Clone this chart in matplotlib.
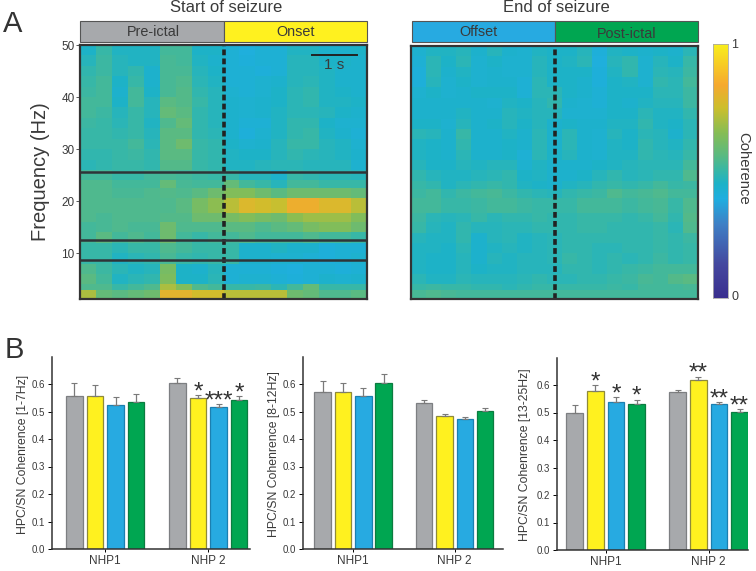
import numpy as np
import matplotlib
matplotlib.use('Agg')
import matplotlib.pyplot as plt
from matplotlib.colors import LinearSegmentedColormap
from matplotlib.patches import Rectangle

plt.rcParams['font.family'] = ['Liberation Sans', 'DejaVu Sans']

W, H = 756, 571

# frequency edges of the heatmap rows, top to bottom
freq_edges = [50, 48, 46, 44, 42, 40, 38, 36, 34, 32, 30, 28, 26, 24, 22.5, 20.7, 17.8, 16, 14, 12, 10, 8, 6, 4, 3, 1.2]

# coherence x 100, one row per frequency band, top row first
start_rows = [
    [45, 50, 46, 46, 46, 52, 52, 45, 45, 42, 40, 42, 42, 46, 46, 44, 44, 45],
    [47, 51, 47, 46, 46, 53, 52, 46, 44, 42, 41, 42, 42, 47, 47, 45, 45, 44],
    [49, 51, 47, 49, 44, 53, 53, 47, 45, 42, 42, 41, 42, 47, 47, 46, 44, 44],
    [50, 52, 45, 50, 44, 53, 54, 48, 46, 42, 42, 43, 44, 47, 48, 46, 44, 44],
    [51, 52, 44, 52, 45, 53, 55, 49, 47, 43, 42, 43, 45, 48, 49, 46, 45, 44],
    [52, 52, 45, 52, 47, 56, 55, 50, 47, 44, 43, 44, 45, 48, 49, 46, 46, 45],
    [52, 51, 47, 50, 47, 58, 56, 49, 47, 44, 43, 44, 46, 48, 48, 47, 45, 44],
    [51, 50, 48, 50, 46, 54, 58, 49, 47, 44, 42, 42, 46, 49, 49, 45, 43, 43],
    [50, 50, 49, 50, 47, 56, 56, 49, 48, 44, 41, 43, 46, 49, 50, 46, 44, 42],
    [50, 50, 50, 52, 48, 56, 60, 50, 49, 45, 43, 44, 47, 50, 50, 47, 46, 43],
    [49, 49, 50, 51, 49, 56, 56, 50, 49, 46, 45, 45, 47, 49, 48, 47, 46, 44],
    [48, 49, 50, 50, 49, 55, 55, 50, 49, 46, 46, 47, 48, 48, 47, 47, 47, 43],
    [52, 52, 50, 50, 52, 53, 52, 51, 50, 50, 47, 47, 44, 50, 49, 48, 48, 47],
    [54, 54, 52, 52, 52, 58, 53, 52, 52, 58, 52, 50, 47, 52, 52, 50, 50, 50],
    [54, 54, 53, 53, 54, 55, 54, 56, 60, 64, 64, 60, 56, 60, 60, 60, 60, 58],
    [54, 54, 54, 54, 54, 54, 56, 62, 66, 72, 78, 76, 74, 82, 82, 78, 78, 72],
    [54, 53, 54, 54, 54, 55, 55, 60, 60, 62, 64, 62, 60, 66, 68, 68, 68, 64],
    [52, 53, 54, 53, 53, 60, 54, 54, 54, 56, 56, 54, 56, 58, 62, 64, 64, 60],
    [52, 56, 52, 54, 52, 60, 52, 50, 52, 52, 54, 52, 52, 52, 54, 52, 52, 50],
    [50, 50, 48, 50, 50, 54, 52, 50, 50, 50, 44, 44, 46, 44, 44, 41, 42, 42],
    [50, 50, 46, 48, 49, 53, 50, 49, 50, 50, 44, 44, 43, 43, 42, 41, 42, 43],
    [54, 51, 48, 46, 47, 62, 45, 44, 47, 42, 42, 42, 41, 40, 42, 42, 41, 42],
    [56, 52, 46, 48, 49, 63, 45, 45, 48, 42, 43, 43, 42, 41, 42, 44, 43, 44],
    [54, 54, 50, 52, 54, 70, 64, 54, 52, 50, 50, 51, 48, 52, 58, 50, 50, 50],
    [70, 58, 56, 58, 60, 80, 80, 76, 76, 72, 72, 72, 72, 60, 58, 54, 54, 56],
]
end_rows = [
    [43, 46, 46, 47, 44, 47, 44, 43, 46, 45, 45, 47, 41, 46, 45, 44, 45, 44, 48],
    [42, 48, 45, 48, 43, 45, 43, 43, 47, 45, 46, 48, 40, 47, 49, 43, 47, 45, 50],
    [41, 48, 44, 46, 43, 44, 43, 43, 47, 45, 45, 45, 41, 46, 49, 43, 48, 47, 51],
    [41, 47, 43, 45, 43, 44, 44, 42, 48, 45, 45, 44, 41, 45, 46, 43, 49, 48, 52],
    [43, 45, 43, 44, 45, 45, 45, 42, 48, 48, 45, 44, 42, 45, 45, 45, 48, 48, 51],
    [44, 44, 44, 44, 44, 43, 46, 45, 47, 49, 44, 43, 42, 45, 44, 46, 47, 47, 51],
    [44, 44, 44, 46, 44, 44, 47, 46, 47, 47, 43, 43, 43, 45, 45, 48, 46, 46, 49],
    [45, 45, 43, 47, 44, 45, 47, 45, 47, 44, 45, 44, 44, 46, 46, 49, 46, 45, 48],
    [48, 47, 44, 50, 44, 44, 46, 44, 48, 44, 48, 44, 43, 47, 45, 48, 47, 44, 48],
    [46, 45, 44, 49, 44, 44, 45, 44, 48, 44, 48, 44, 43, 46, 45, 49, 47, 46, 49],
    [46, 45, 44, 48, 44, 44, 45, 42, 48, 45, 47, 44, 43, 46, 46, 49, 48, 47, 50],
    [47, 45, 45, 47, 46, 47, 47, 43, 46, 44, 44, 44, 45, 46, 47, 48, 48, 48, 52],
    [49, 47, 46, 46, 47, 48, 49, 45, 46, 44, 44, 45, 47, 49, 47, 48, 49, 49, 54],
    [50, 49, 46, 48, 49, 50, 49, 46, 45, 44, 46, 47, 49, 50, 49, 50, 52, 50, 51],
    [51, 52, 49, 51, 52, 53, 51, 49, 48, 47, 49, 50, 51, 54, 52, 53, 54, 52, 52],
    [52, 52, 50, 50, 51, 52, 52, 51, 50, 50, 50, 52, 52, 52, 51, 52, 53, 50, 54],
    [51, 48, 47, 48, 50, 48, 49, 49, 50, 49, 49, 50, 50, 50, 49, 50, 52, 49, 55],
    [50, 47, 46, 49, 47, 47, 48, 48, 49, 49, 49, 50, 50, 49, 49, 49, 50, 48, 54],
    [47, 46, 46, 49, 44, 47, 48, 46, 47, 48, 49, 49, 49, 49, 49, 49, 50, 49, 51],
    [46, 46, 45, 48, 44, 46, 47, 46, 47, 48, 49, 49, 48, 48, 49, 49, 50, 49, 50],
    [46, 45, 45, 47, 44, 47, 46, 47, 47, 48, 50, 49, 48, 49, 48, 49, 51, 49, 50],
    [46, 45, 45, 47, 45, 46, 46, 47, 47, 47, 49, 49, 48, 49, 50, 51, 52, 52, 52],
    [48, 46, 46, 48, 47, 47, 47, 48, 49, 48, 48, 49, 49, 50, 51, 53, 52, 55, 56],
    [50, 51, 50, 50, 49, 49, 48, 49, 50, 50, 50, 50, 50, 51, 50, 52, 52, 52, 53],
    [53, 54, 53, 52, 52, 52, 52, 52, 52, 52, 52, 52, 52, 52, 52, 52, 52, 52, 52],
]

band_lines = [25.6, 12.5, 8.7]

groups = ['NHP1', 'NHP 2']
phase_colors = ['#a7a9ac', '#fff11f', '#27aae1', '#00a651']
phase_edges = ['#7d7f82', '#8f8a3a', '#1c7fb0', '#0b7c40']

labels_b = ['HPC/SN Cohenrence [1-7Hz]', 'HPC/SN Cohenrence [8-12Hz]', 'HPC/SN Cohenrence [13-25Hz]']
means_1_7 = [0.555, 0.557, 0.525, 0.535, 0.605, 0.550, 0.515, 0.543]
tops_1_7 = [0.604, 0.597, 0.552, 0.563, 0.622, 0.560, 0.526, 0.555]
stars_1_7 = ['', '', '', '', '', '*', '***', '*']
means_8_12 = [0.570, 0.572, 0.555, 0.602, 0.530, 0.483, 0.472, 0.503]
tops_8_12 = [0.612, 0.605, 0.585, 0.636, 0.542, 0.491, 0.481, 0.513]
stars_8_12 = ['', '', '', '', '', '', '', '']
means_13_25 = [0.500, 0.578, 0.538, 0.530, 0.573, 0.620, 0.530, 0.502]
tops_13_25 = [0.527, 0.600, 0.555, 0.547, 0.583, 0.630, 0.537, 0.512]
stars_13_25 = ['', '*', '*', '*', '', '**', '**', '**']


def px_axes(x0, y0, x1, y1, **kw):
    # axes from pixel box, y measured from the top of the image
    return fig.add_axes([x0 / W, 1 - y1 / H, (x1 - x0) / W, (y1 - y0) / H], **kw)


fig = plt.figure(figsize=(W / 100, H / 100), dpi=100)

coh = LinearSegmentedColormap.from_list('coh', [
    (0.0, '#3a2f8f'), (0.13, '#45489f'), (0.29, '#3f80c6'), (0.39, '#1faee0'),
    (0.45, '#1db2c8'), (0.5, '#36b7a8'), (0.56, '#5aba82'), (0.65, '#86bd55'),
    (0.75, '#cdbf2c'), (0.84, '#f6a92f'), (1.0, '#f9ee1c')])

TXT = '#3a3a3a'

# heatmaps
for box, rows in [((80, 45, 367, 299), start_rows), ((411, 46, 698, 299), end_rows)]:
    ax = px_axes(*box)
    vals = np.array(rows) / 100
    t_edges = np.linspace(0, 1, vals.shape[1] + 1)
    ax.pcolormesh(t_edges, freq_edges, vals, cmap=coh, vmin=0, vmax=1)
    ax.set_xlim(0, 1)
    ax.set_ylim(1.2, 50)
    ax.axvline(0.5, color='#222222', lw=2.6, ls=(0, (1.6, 0.9)))
    ax.set_xticks([])
    for s in ax.spines.values():
        s.set_linewidth(1.6)
        s.set_color('#333333')
    if rows is start_rows:
        for f in band_lines:
            ax.axhline(f, color='#2f3438', lw=1.8)
        ax.set_yticks([10, 20, 30, 40, 50])
        ax.tick_params(axis='y', length=3, width=0.7, labelsize=8.5, labelcolor=TXT, pad=1, color='#555555')
        ax.set_ylabel('Frequency (Hz)', fontsize=14.5, color=TXT, labelpad=8)
    else:
        ax.set_yticks([])

# colorbar
cax = px_axes(713, 44, 728, 298)
cax.imshow(np.linspace(1, 0, 256).reshape(-1, 1), cmap=coh, aspect='auto', vmin=0, vmax=1, extent=(0, 1, 0, 1))
cax.set_xticks([])
cax.set_yticks([])
for s in cax.spines.values():
    s.set_linewidth(0.6)
    s.set_color('#aaaaaa')

# bar panels: (x0, x1, y of top, y of zero), first bar centre in px, bar step in px
panels = [
    (52, 250, 357, 549, 74.3, 20.6, means_1_7, tops_1_7, stars_1_7, labels_b[0], 1.5),
    (303, 503, 357, 549, 322.7, 20.3, means_8_12, tops_8_12, stars_8_12, labels_b[1], 2),
    (557, 748, 358, 550, 574.7, 20.6, means_13_25, tops_13_25, stars_13_25, labels_b[2], 4),
]
xpos = [0, 1, 2, 3, 5, 6, 7, 8]
for x0, x1, yt, y0, c0, step, means, tops, stars, lab, lpad in panels:
    ax = px_axes(x0, yt, x1, y0)
    ax.set_xlim((x0 - c0) / step, (x1 - c0) / step)
    ax.set_ylim(0, (y0 - yt) / 275)
    errs = np.array(tops) - np.array(means)
    ax.bar(xpos, means, width=0.81, color=phase_colors * 2, edgecolor=phase_edges * 2, linewidth=0.9,
           yerr=[np.zeros(8), errs], ecolor='#7a7a7a', error_kw=dict(lw=0.9, capsize=2, capthick=0.8))
    for x, t, st in zip(xpos, tops, stars):
        if st:
            ax.text(x, t - 0.03, st, ha='center', va='bottom', fontsize=17.5, color='#333333')
    ax.spines[['top', 'right']].set_visible(False)
    for s in ['left', 'bottom']:
        ax.spines[s].set_linewidth(1.1)
        ax.spines[s].set_color('#333333')
    ax.set_yticks(np.arange(0, 0.61, 0.1))
    ax.set_yticklabels(['%.1f' % v for v in np.arange(0, 0.61, 0.1)])
    ax.set_xticks([1.5, 6.5])
    ax.set_xticklabels(groups)
    ax.tick_params(axis='y', length=3, width=0.7, labelsize=7, labelcolor=TXT, pad=2)
    ax.tick_params(axis='x', length=2.5, width=0.7, labelsize=8.5, labelcolor=TXT, pad=2)
    ax.set_ylabel(lab, fontsize=8.8, color=TXT, labelpad=lpad, y=0.495)

# overlay in pixel coordinates for headers and loose text
ov = fig.add_axes([0, 0, 1, 1], facecolor='none')
ov.set_xlim(0, W)
ov.set_ylim(H, 0)
ov.axis('off')
for x0, x1, c in [(80, 224, phase_colors[0]), (224, 367, phase_colors[1]),
                  (412, 555, phase_colors[2]), (555, 698, phase_colors[3])]:
    ov.add_patch(Rectangle((x0, 21), x1 - x0, 21, facecolor=c, edgecolor='#555555', lw=0.8))
for x, txt, y in [(153, 'Pre-ictal', 32), (296, 'Onset', 32), (478, 'Offset', 32), (627, 'Post-ictal', 34)]:
    ov.text(x, y, txt, ha='center', va='center', fontsize=10.4, color=TXT)
ov.text(226, 7, 'Start of seizure', ha='center', va='center', fontsize=12, color=TXT)
ov.text(556, 8, 'End of seizure', ha='center', va='center', fontsize=12, color=TXT)
ov.text(13, 24, 'A', ha='center', va='center', fontsize=21, color='#333333')
ov.text(14, 350, 'B', ha='center', va='center', fontsize=21, color='#333333')
ov.plot([312, 357], [55, 55], color='#222222', lw=1.4)
ov.text(334, 65, '1 s', ha='center', va='center', fontsize=11, color=TXT)
ov.text(735, 45, '1', ha='center', va='center', fontsize=9, color=TXT)
ov.text(735, 297, '0', ha='center', va='center', fontsize=9, color=TXT)
ov.text(743, 168, 'Coherence', ha='center', va='center', rotation=-90, fontsize=10.7, color=TXT)

fig.savefig('out.png', dpi=100)
